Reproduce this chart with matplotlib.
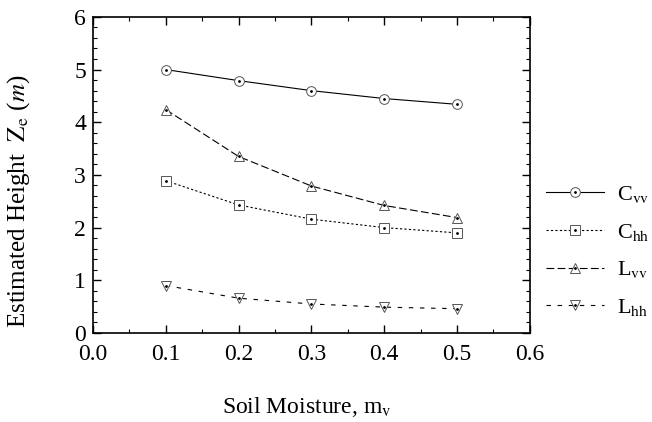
import matplotlib
matplotlib.use('Agg')
import matplotlib.pyplot as plt
from matplotlib.legend_handler import HandlerTuple
from matplotlib.ticker import MultipleLocator, FormatStrFormatter

# Data
moisture = [0.1, 0.2, 0.3, 0.4, 0.5]
c_vv = [5.00, 4.79, 4.60, 4.45, 4.34]
c_hh = [2.89, 2.43, 2.16, 2.00, 1.90]
l_vv = [4.24, 3.35, 2.79, 2.42, 2.19]
l_hh = [0.90, 0.66, 0.55, 0.49, 0.46]

labels = [r'C$_{\mathrm{vv}}$', r'C$_{\mathrm{hh}}$', r'L$_{\mathrm{vv}}$', r'L$_{\mathrm{hh}}$']

plt.rcParams['font.family'] = 'Liberation Serif'
plt.rcParams['mathtext.fontset'] = 'stix'

fig = plt.figure(figsize=(6.52, 4.22), dpi=100)
ax = fig.add_axes([0.1426, 0.211, 0.67, 0.749])

series = [
    (c_vv, 'o', '-'),
    (c_hh, 's', (0, (2, 2))),
    (l_vv, '^', (0, (7, 3))),
    (l_hh, 'v', (0, (4, 6))),
]

handles = []
for ys, mk, ls in series:
    line, = ax.plot(moisture, ys, color='black', lw=0.8, ls=ls,
                    marker=mk, ms=7, mfc='white', mec='#555555', mew=0.7)
    dot, = ax.plot(moisture, ys, ls='none', marker='.', ms=2, color='black')
    handles.append((line, dot))

ax.set_xlim(0.0, 0.6)
ax.set_ylim(0, 6)
ax.xaxis.set_major_locator(MultipleLocator(0.1))
ax.xaxis.set_minor_locator(MultipleLocator(0.05))
ax.yaxis.set_major_locator(MultipleLocator(1))
ax.yaxis.set_minor_locator(MultipleLocator(0.2))
ax.xaxis.set_major_formatter(FormatStrFormatter('%.1f'))
ax.tick_params(which='both', direction='in', top=True, right=True, labelsize=17)
ax.tick_params(which='major', length=6, width=1)
ax.tick_params(which='minor', length=3, width=0.8)
ax.tick_params(axis='x', pad=8)
ax.tick_params(axis='y', pad=5)
for s in ax.spines.values():
    s.set_linewidth(1.2)

ax.set_xlabel(r'Soil Moisture, m$_{\mathrm{v}}$', fontsize=17)
ax.xaxis.set_label_coords(0.49, -0.195)
ax.set_ylabel(r'Estimated Height  $\mathrm{Z_e}$ ($m$)', fontsize=18)
ax.yaxis.set_label_coords(-0.14, 0.415)

fig.legend(handles, labels, loc='center left', bbox_to_anchor=(0.838, 0.405),
           frameon=False, fontsize=16, handlelength=2.6, handletextpad=0.6,
           labelspacing=0.75, borderpad=0, borderaxespad=0,
           handler_map={tuple: HandlerTuple(ndivide=1)})

fig.savefig('out.png', dpi=100)
